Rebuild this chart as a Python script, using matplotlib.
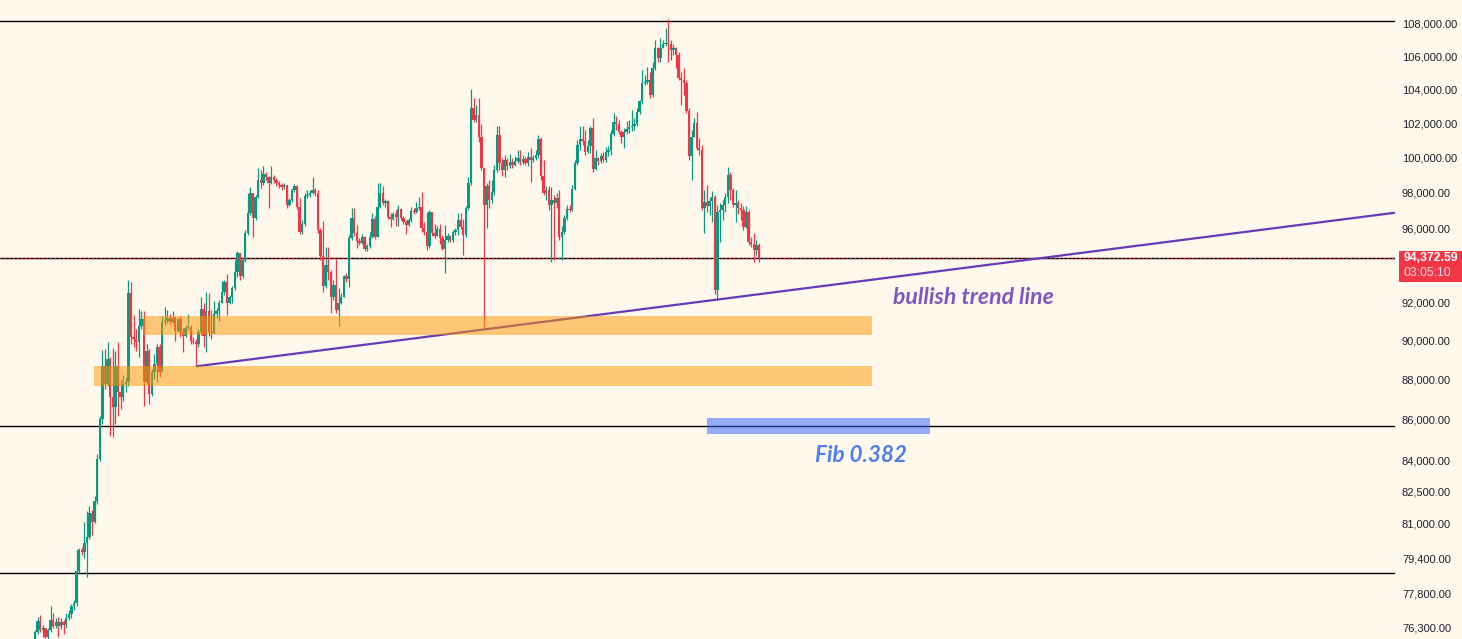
import numpy as np
import matplotlib
matplotlib.use("Agg")
import matplotlib.pyplot as plt
from matplotlib.patches import Rectangle
from matplotlib.ticker import NullLocator, FixedLocator, FixedFormatter

# ---------------- data (BTC 4H candles) ----------------
first_open = 75800
close = [
    76100, 76590, 76190, 76280, 75880, 76190, 76630, 76370, 76540, 76370,
    76540, 76410, 76720, 76900, 77250, 77380, 78810, 79760, 79670, 80070,
    80390, 81470, 81090, 82070, 84070, 86020, 88670, 87760, 89030, 87100,
    86600, 88670, 87360, 87100, 87760, 87860, 92520, 90160, 90060, 89900,
    90740, 91100, 87860, 89440, 87260, 88370, 88780, 89690, 88370, 90940,
    91000, 91200, 90940, 91150, 90480, 91100, 90420, 90220, 90630, 90680,
    89960, 89900, 89800, 90420, 91670, 90220, 91520, 90420, 90370, 91410,
    91520, 91990, 92570, 93100, 91990, 92260, 92790, 93640, 94670, 93420,
    94290, 95760, 96870, 97980, 96590, 97760, 98720, 98550, 99060, 98890,
    98550, 98890, 98720, 98550, 98430, 98320, 98430, 97310, 97590, 98150,
    98380, 97200, 95810, 96260, 97820, 97870, 97980, 98150, 97980, 95920,
    94510, 92890, 94020, 93640, 92260, 92950, 91570, 91990, 92310, 93420,
    93260, 95480, 96590, 95760, 95320, 95210, 95540, 94880, 95050, 95540,
    96530, 95540, 97200, 97980, 97420, 97530, 96640, 96530, 96810, 96640,
    97090, 96590, 96370, 96200, 96480, 96980, 96920, 97140, 97200, 96040,
    95810, 95050, 96920, 95760, 95590, 95980, 95480, 94880, 95370, 95590,
    95370, 95810, 95920, 96480, 96090, 95650, 97140, 98550, 102890, 102180,
    102480, 101190, 99400, 97310, 98380, 97590, 98040, 99290, 101300, 99690,
    99290, 99860, 99520, 99750, 99580, 99800, 99970, 99750, 99920, 99690,
    100030, 99860, 99970, 100150, 101070, 98950, 97980, 98150, 97310, 97590,
    97420, 97700, 95540, 95810, 96590, 97090, 97030, 98210, 99690, 100720,
    101070, 100950, 100310, 100660, 101720, 99350, 99970, 99800, 100090, 99860,
    100310, 100430, 101360, 102060, 101950, 101480, 101190, 101480, 101660, 101780,
    101830, 101950, 102650, 103310, 104380, 104440, 104560, 103660, 105290, 106510,
    105900, 106510, 106760, 106820, 106760, 106390, 106510, 106080, 104680, 104560,
    104380, 102710, 100090, 101190, 102000, 100550, 100430, 97140, 97480, 97250,
    97530, 97760, 92680, 96920, 97030, 97310, 97760, 99000, 98150, 97310,
    97420, 97140, 97030, 96090, 96920, 95260, 95150, 94830, 95100, 94372.59,
]
high = [
    76190, 76760, 76850, 76410, 76280, 76280, 77250, 76940, 76720, 76760,
    76720, 76630, 76940, 77070, 77340, 77510, 79800, 79850, 79900, 81090,
    81560, 81820, 81610, 82300, 84310, 86170, 89490, 89540, 89900, 89130,
    89590, 89440, 89900, 88010, 88210, 88110, 93210, 93100, 91310, 90580,
    91670, 91520, 91520, 89800, 89540, 88520, 89290, 89800, 89800, 91260,
    91780, 91620, 91360, 91520, 91260, 91200, 91260, 90630, 90790, 91360,
    90790, 90160, 90060, 90580, 92260, 91990, 92570, 92520, 91620, 92050,
    91720, 92150, 93160, 93210, 93530, 92370, 92890, 94290, 94780, 94670,
    94400, 95920, 97980, 98320, 97980, 97870, 99400, 99290, 99520, 99180,
    98950, 99520, 99000, 98830, 98660, 98550, 98550, 98380, 97700, 98260,
    98490, 98430, 97700, 96480, 97980, 98150, 98150, 98890, 98260, 98150,
    96030, 96430, 95000, 95000, 93750, 93210, 94340, 92790, 92520, 93480,
    93590, 95650, 97140, 97140, 96200, 95480, 95700, 95590, 95150, 95810,
    96870, 96700, 98550, 98550, 98380, 97640, 97590, 96870, 96920, 97030,
    97310, 97140, 96700, 96480, 96590, 97200, 97140, 97480, 97760, 98040,
    96370, 96920, 97030, 95920, 96260, 96150, 96260, 95650, 96200, 95760,
    95650, 95920, 96030, 96870, 96870, 96530, 97250, 98890, 104020, 103490,
    103070, 103490, 101950, 99400, 98550, 98720, 98720, 99580, 101830, 101830,
    99970, 100150, 99970, 100200, 99970, 100090, 100430, 100430, 100150, 100030,
    100310, 100550, 100150, 100430, 101300, 101190, 99860, 98380, 98380, 98320,
    97870, 97980, 98150, 96150, 96760, 97310, 97310, 98430, 99860, 101010,
    101830, 101830, 101600, 101010, 101830, 102300, 100430, 100030, 100260, 100310,
    100610, 100660, 101600, 102590, 102420, 102180, 101600, 101720, 102120, 102180,
    102770, 102300, 102890, 103370, 105170, 104870, 105350, 105050, 105660, 107010,
    106580, 107130, 107010, 107750, 108310, 107010, 106760, 106580, 106270, 105050,
    105290, 104560, 102890, 101600, 102300, 102650, 101130, 100720, 98150, 98430,
    97760, 98090, 97870, 97310, 97420, 97590, 97980, 99460, 99180, 98260,
    98150, 97590, 97420, 97250, 97250, 97030, 95540, 95760, 95370, 95210,
]
low = [
    75620, 76020, 76100, 75880, 75750, 75800, 76100, 76280, 76280, 75880,
    76240, 76020, 76280, 76630, 76720, 77070, 77250, 78720, 79530, 79390,
    78540, 80300, 80440, 81000, 81930, 83970, 85780, 87510, 87650, 85190,
    85140, 85780, 86170, 86510, 86910, 87360, 87650, 89800, 89690, 89440,
    89130, 90580, 86660, 87760, 86770, 87150, 88010, 87860, 88110, 88370,
    90790, 90890, 90840, 90890, 89960, 90420, 90160, 89390, 90160, 90530,
    89800, 89800, 88670, 89690, 90270, 89690, 89390, 90220, 90060, 90320,
    91200, 91000, 91940, 92410, 91310, 91890, 91990, 92680, 93370, 93210,
    93320, 94180, 95650, 96760, 95540, 96480, 97700, 98260, 98430, 98720,
    97140, 98490, 98550, 98380, 98260, 98150, 98210, 97140, 97250, 97480,
    98040, 97090, 95700, 95700, 96150, 97700, 97760, 97920, 97820, 95760,
    94290, 92570, 92790, 93210, 91460, 92150, 91460, 90740, 91890, 92260,
    93100, 92840, 95370, 95590, 94940, 95100, 95150, 94780, 94780, 94940,
    95480, 95430, 95540, 97140, 97310, 97200, 96530, 96090, 96480, 96150,
    96150, 96480, 96260, 95700, 96150, 96370, 96810, 96870, 97030, 95810,
    95650, 94830, 94940, 95590, 95480, 95590, 95150, 94830, 93590, 95260,
    95260, 95260, 95650, 95650, 95980, 94560, 95540, 97030, 98430, 102060,
    102060, 100890, 99290, 90580, 96030, 97140, 97420, 97870, 99180, 99290,
    98950, 98890, 99290, 99400, 99400, 99520, 99690, 99580, 99630, 99580,
    99520, 98600, 99750, 99860, 99970, 98720, 97870, 97590, 97030, 94180,
    94290, 97140, 95370, 94290, 95700, 96480, 96920, 96980, 98150, 99580,
    100430, 100720, 100150, 100260, 100260, 99180, 99290, 99580, 99690, 99750,
    99750, 100090, 100150, 101240, 101600, 101360, 100840, 100550, 101360, 101420,
    101540, 101600, 101830, 102530, 103130, 104260, 104320, 103490, 103550, 105170,
    105660, 105660, 106510, 106640, 105660, 105780, 106080, 105290, 104560, 103070,
    103660, 102590, 99860, 98720, 101480, 100430, 100150, 97030, 95760, 96920,
    96760, 96370, 92470, 92150, 95260, 96480, 96920, 97420, 97590, 97200,
    96370, 96810, 96480, 95920, 96030, 95100, 95000, 94180, 94560, 94180,
]

price_ticks = [108000, 106000, 104000, 102000, 100000, 98000, 96000, 92000,
               90000, 88000, 86000, 84000, 82500, 81000, 79400, 77800, 76300]
last_price = 94372.59
countdown = "03:05:10"

h_levels = [108200, 85680, 78700]              # drawn horizontal lines
zone_lo = [90270, 87650]                        # orange zones
zone_hi = [91300, 88670]
zone_start = [41.6, 22.7]
zone_end = [322.5, 322.5]
fib_lo, fib_hi = 85290, 86070                   # blue fib 0.382 box
fib_start, fib_end = 259.0, 344.9
trend_idx = [62, 263]                           # trend line anchor candles (lows)

# ---------------- figure ----------------
W, H = 1462, 639
BG = "#FFF8EC"
UP, DN = "#089981", "#F23645"

fig = plt.figure(figsize=(W / 100, H / 100), dpi=100)
fig.patch.set_facecolor(BG)
ax = fig.add_axes([0, 0, 1395 / W, 1])
ax.set_facecolor(BG)
ax.set_yscale("log")
ax.set_ylim(75784, 109503)
ax.set_xlim(-13.49, 524.1)
for s in ax.spines.values():
    s.set_visible(False)

n = len(close)
x = np.arange(n)
c = np.array(close, float)
o = np.array([first_open] + close[:-1], float)
hi = np.maximum(np.array(high, float), np.maximum(o, c))
lo = np.minimum(np.array(low, float), np.minimum(o, c))
up = c >= o
cols = np.where(up, UP, DN)

# horizontal lines
for lv in h_levels:
    ax.axhline(lv, color="black", lw=1.0, zorder=1.5)
ax.axhline(last_price, color="black", lw=1.0, zorder=1.5)

# candles
ax.vlines(x, lo, hi, colors=cols, lw=0.9, zorder=2)
bottom = np.minimum(o, c)
height = np.maximum(np.abs(c - o), bottom * 0.0007)
ax.bar(x, height, bottom=bottom, width=0.92, color=cols, linewidth=0, zorder=2.2)

# current price dotted line
ax.axhline(last_price, color=DN, lw=1.0, ls=(0, (1, 2)), zorder=2.5)

# trend line through the two lows, extended to the right edge
x0, x1 = trend_idx
l0, l1 = low[x0], low[x1]
slope = (np.log(l1) - np.log(l0)) / (x1 - x0)
x_end = ax.get_xlim()[1]
ax.plot([x0, x_end], [l0, np.exp(np.log(l0) + slope * (x_end - x0))],
        color="#673AB7", lw=1.6, zorder=3, solid_capstyle="butt")

# zones
for zs, ze, zl, zh in zip(zone_start, zone_end, zone_lo, zone_hi):
    ax.add_patch(Rectangle((zs, zl), ze - zs, zh - zl, facecolor="#FF9800",
                           alpha=0.5, edgecolor="none", zorder=4))
ax.add_patch(Rectangle((fib_start, fib_lo), fib_end - fib_start, fib_hi - fib_lo,
                       facecolor="#2962FF", alpha=0.5, edgecolor="none", zorder=4))

# annotation texts
ax.text(893 / 1395, 1 - 297 / 639, "bullish trend line", transform=ax.transAxes,
        ha="left", va="center", color="#7E57C2", fontsize=16.6, family="Lato",
        style="italic", weight="bold", zorder=5)
ax.text(815 / 1395, 1 - 455 / 639, "Fib 0.382", transform=ax.transAxes,
        ha="left", va="center", color="#4F7FEE", fontsize=16.2, family="Lato",
        style="italic", weight="bold", zorder=5)

# price axis
ax.set_xticks([])
ax.yaxis.tick_right()
ax.yaxis.set_minor_locator(NullLocator())
ax.yaxis.set_major_locator(FixedLocator(price_ticks))
ax.yaxis.set_major_formatter(FixedFormatter([f"{v:,.2f}" for v in price_ticks]))
ax.tick_params(axis="y", length=0, pad=5.0, labelsize=8.0, labelcolor="#1E222D")
for lab in ax.get_yticklabels():
    lab.set_family("Liberation Sans")

# current price label box
fig.patches.append(Rectangle((1399 / W, (H - 282) / H), 63 / W, 31 / H,
                             transform=fig.transFigure, facecolor=DN,
                             edgecolor="none", zorder=10))
fig.text(1404 / W, 1 - 258.3 / H, f"{last_price:,.2f}", color="white",
         fontsize=8.8, weight="bold", family="Liberation Sans",
         ha="left", va="center", zorder=11)
fig.text(1404 / W, 1 - 272.7 / H, countdown, color="#FCDDE0",
         fontsize=8.8, family="Liberation Sans", ha="left", va="center", zorder=11)

fig.savefig("out.png", dpi=100, facecolor=BG)
